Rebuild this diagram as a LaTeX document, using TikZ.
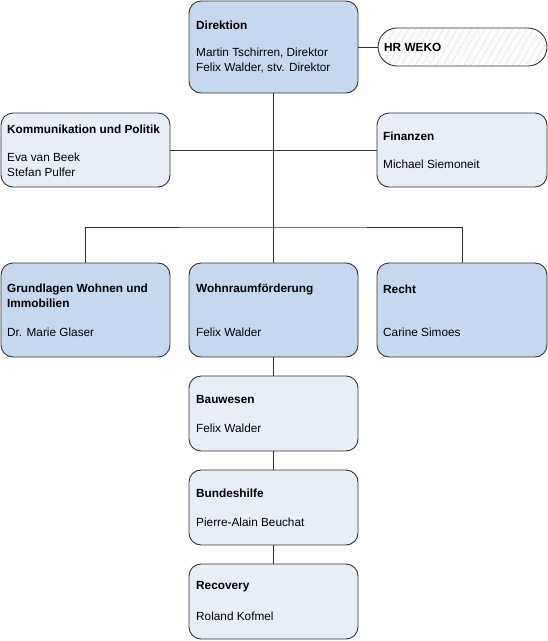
\documentclass[tikz,border=0pt]{standalone}
\usepackage{fontspec}
\setmainfont{Liberation Sans}
\usetikzlibrary{patterns.meta}
\definecolor{darkbox}{HTML}{C6D8EF}
\definecolor{lightbox}{HTML}{E8EEF6}
\definecolor{edge}{HTML}{333333}
\begin{document}
\begin{tikzpicture}[x=1pt,y=-1pt,
  box/.style={draw=edge,line width=0.9pt,rounded corners=12pt,inner sep=0pt},
  dbox/.style={box,fill=darkbox},
  lbox/.style={box,fill=lightbox},
  txt/.style={anchor=west,inner sep=0pt,font=\fontsize{11.8}{14}\selectfont,text=black},
  ttl/.style={txt,font=\fontsize{11.8}{14}\selectfont\bfseries},
  conn/.style={draw=edge,line width=0.9pt}]
\useasboundingbox (0,0) rectangle (548,641);
% boxes
\node[dbox,minimum width=169pt,minimum height=92pt] (dir) at (273.5,47) {};
\node[box,minimum width=169pt,minimum height=38pt,rounded corners=19pt,
      pattern={Lines[angle=60,distance=6pt,line width=0.35pt]},pattern color=gray!30] (hr) at (462.5,47) {};
\node[lbox,minimum width=169pt,minimum height=74pt] (kom) at (85.5,150) {};
\node[lbox,minimum width=170pt,minimum height=74pt] (fin) at (462,150) {};
\node[dbox,minimum width=169pt,minimum height=94pt] (gru) at (85.5,310) {};
\node[dbox,minimum width=169pt,minimum height=94pt] (woh) at (273.5,310) {};
\node[dbox,minimum width=170pt,minimum height=94pt] (rec) at (462,310) {};
\node[lbox,minimum width=169pt,minimum height=75pt] (bau) at (273.5,413.5) {};
\node[lbox,minimum width=169pt,minimum height=75pt] (bun) at (273.5,507.5) {};
\node[lbox,minimum width=169pt,minimum height=75pt] (rcv) at (273.5,601.5) {};
% connectors
\coordinate (bus) at (273.5,227);
\draw[conn] (dir.south) -- (woh.north);
\draw[conn] (dir.east) -- (hr.west);
\draw[conn] (kom.east) -- (fin.west);
\draw[conn] (gru.north) |- (bus) -| (rec.north);
\draw[conn] (woh.south) -- (bau.north);
\draw[conn] (bau.south) -- (bun.north);
\draw[conn] (bun.south) -- (rcv.north);
% texts
\node[ttl] (t1) at (196,25) {Direktion};
\node[txt] (t2) at (196,53) {Martin Tschirren, Direktor};
\node[txt] (t3) at (196,68) {Felix Walder, stv. Direktor};
\node[ttl] (t4) at (384,47) {HR WEKO};
\node[ttl] (t5) at (7,129) {Kommunikation und Politik};
\node[txt] (t6) at (7,157) {Eva van Beek};
\node[txt] (t7) at (7,172) {Stefan Pulfer};
\node[ttl] (t8) at (383,136) {Finanzen};
\node[txt] (t9) at (383,164) {Michael Siemoneit};
\node[ttl] (t10) at (7,289) {Grundlagen Wohnen und};
\node[ttl] (t11) at (7,303) {Immobilien};
\node[txt] (t12) at (7,332) {Dr. Marie Glaser};
\node[ttl] (t13) at (196,289) {Wohnraumförderung};
\node[txt] (t14) at (196,332) {Felix Walder};
\node[ttl] (t15) at (383,289) {Recht};
\node[txt] (t16) at (383,332) {Carine Simoes};
\node[ttl] (t17) at (196,399) {Bauwesen};
\node[txt] (t18) at (196,428) {Felix Walder};
\node[ttl] (t19) at (196,493) {Bundeshilfe};
\node[txt] (t20) at (196,522) {Pierre-Alain Beuchat};
\node[ttl] (t21) at (196,587) {Recovery};
\node[txt] (t22) at (196,616) {Roland Kofmel};
\end{tikzpicture}
\end{document}
